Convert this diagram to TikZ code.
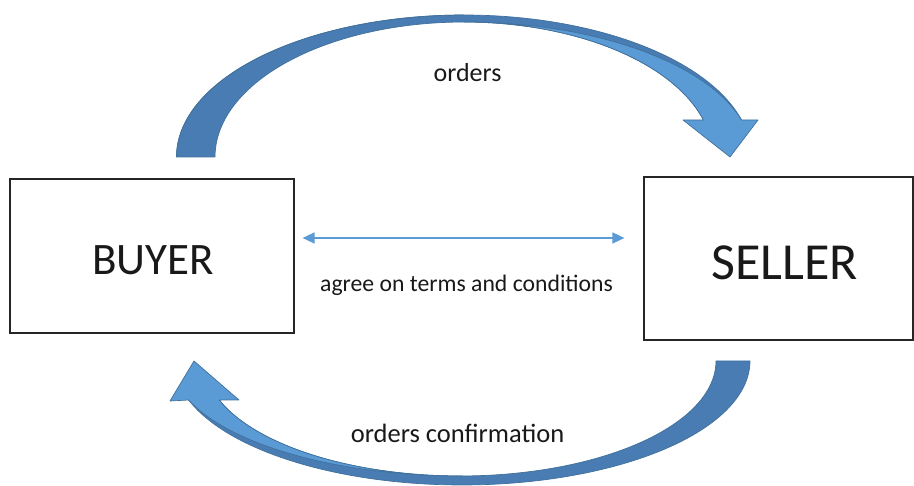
\documentclass[tikz,border=0pt]{standalone}
\usepackage{fontspec}
\setmainfont{Carlito}
\usetikzlibrary{arrows.meta}
\definecolor{backblue}{RGB}{72,124,178}
\definecolor{frontblue}{RGB}{91,155,213}
\definecolor{edgeblue}{RGB}{65,113,156}
\begin{document}
\begin{tikzpicture}[x=1pt,y=-1pt,
  partybox/.style={draw=black!85,line width=1.2pt,inner sep=0pt},
  backpart/.style={fill=backblue,draw=edgeblue,line width=0.7pt,line join=round},
  frontpart/.style={fill=frontblue,draw=edgeblue,line width=0.7pt,line join=round},
  lbl/.style={anchor=base,inner sep=0pt,text=black!90}]
\useasboundingbox (0,0) rectangle (914,486);

% boxes
\node[partybox,minimum width=284pt,minimum height=154pt] (buyer) at (152,256) {};
\node[partybox,minimum width=269pt,minimum height=163pt] (seller) at (778.5,258.5) {};
\node[lbl,font=\fontsize{45}{50}\selectfont] (buyertxt) at (153,275) {BUYER};
\node[lbl,font=\fontsize{52}{58}\selectfont] (sellertxt) at (785,280) {SELLER};

% top curved arrow (orders)
\fill[backpart] plot[domain=180:344.9,samples=90,variable=\t] ({464+287.5*cos(\t)},{157+142*sin(\t)})
  -- (703.5,120)
  -- plot[domain=344.09:180,samples=90,variable=\t] ({464+249*cos(\t)},{157+135*sin(\t)}) -- cycle;
\filldraw[frontpart] plot[domain=270:344.09,samples=60,variable=\t] ({464+288.6*cos(\t)},{157+135*sin(\t)})
  -- (758,120) -- (730,157) -- (683,120) -- (703.5,120)
  -- plot[domain=344.09:270,samples=60,variable=\t] ({464+249*cos(\t)},{157+135*sin(\t)}) -- cycle;
\draw[backpart,fill=none] plot[domain=180:270,samples=60,variable=\t] ({464+287.5*cos(\t)},{157+142*sin(\t)});

% bottom curved arrow (orders confirmation)
\fill[backpart] plot[domain=0:161.67,samples=90,variable=\t] ({462+288*cos(\t)},{361+124*sin(\t)})
  -- (221,400)
  -- plot[domain=160.18:0,samples=90,variable=\t] ({460+256*cos(\t)},{361+115*sin(\t)}) -- cycle;
\filldraw[frontpart] plot[domain=90:160.18,samples=60,variable=\t] ({462+290.6*cos(\t)},{361+115*sin(\t)})
  -- (170,401) -- (194,361) -- (239,400) -- (221,400)
  -- plot[domain=160.18:90,samples=60,variable=\t] ({460+256*cos(\t)},{361+115*sin(\t)}) -- cycle;

% middle double arrow
\coordinate (agree) at (466,238);
\draw[frontblue,line width=1.5pt,{Triangle[length=12pt,width=11pt]}-{Triangle[length=12pt,width=11pt]},
  shorten <=8pt,shorten >=19pt] (buyer.east |- agree) -- (seller.west |- agree);

% labels
\node[lbl,font=\fontsize{26}{30}\selectfont] (orderstxt) at (467.5,82) {orders};
\node[lbl,font=\fontsize{23.7}{28}\selectfont] (agreetxt) at (466.5,292) {agree on terms and conditions};
\node[lbl,font=\fontsize{26.5}{30}\selectfont] (conftxt) at (457.5,443) {orders confirmation};
\end{tikzpicture}
\end{document}
